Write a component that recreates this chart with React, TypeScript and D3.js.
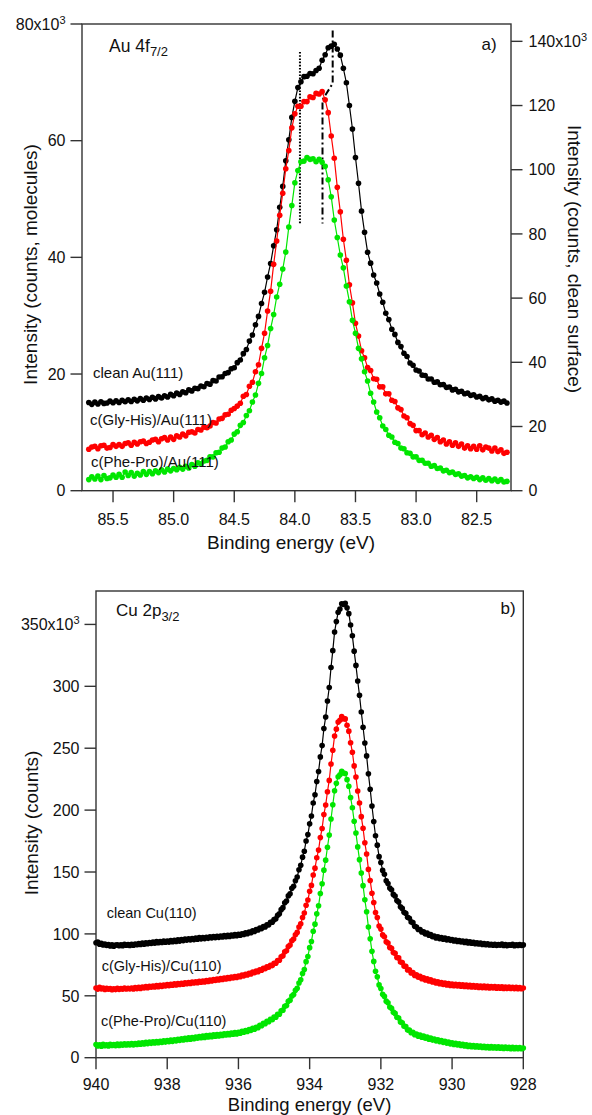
import React from "react";
import * as d3 from "d3";

// ---------- Au 4f7/2 spectra (sampled every 25 meV, starting at 85.70 eV) ----------
const AU_E0 = 85.7;
const AU_DE = 0.025;

// clean Au(111), x10^3 counts, read against the right-hand axis
const AU_CLEAN = [
  27.5, 26.9, 27.6, 27.0, 27.7, 27.2, 27.3, 27.9, 27.4, 28.0,
  27.5, 28.2, 27.7, 28.3, 27.8, 28.5, 28.0, 28.7, 28.2, 28.9,
  28.4, 29.1, 28.6, 29.3, 28.9, 29.6, 29.2, 30.0, 29.6, 30.4,
  30.0, 30.8, 30.5, 31.4, 31.1, 31.9, 31.8, 32.6, 32.4, 33.4,
  33.2, 34.3, 34.2, 35.4, 35.5, 36.5, 36.8, 38.0, 38.3, 39.9,
  40.7, 42.7, 44.0, 46.6, 48.5, 51.7, 54.3, 58.3, 61.8, 66.6,
  70.8, 76.3, 81.3, 88.3, 94.8, 102.8, 109.3, 116.3, 121.3, 125.6,
  127.4, 129.0, 129.1, 130.0, 129.9, 130.9, 131.6, 134.1, 135.8, 138.0,
  138.5, 139.1, 137.6, 135.7, 131.6, 127.1, 120.0, 112.7, 103.8, 95.8,
  87.1, 80.5, 74.3, 70.9, 67.2, 64.7, 61.3, 58.7, 55.3, 53.3,
  50.3, 48.7, 46.2, 44.9, 42.8, 41.8, 39.8, 39.1, 37.6, 37.3,
  36.0, 35.9, 34.8, 34.8, 33.8, 33.9, 33.0, 33.1, 32.2, 32.3,
  31.4, 31.6, 30.8, 31.0, 30.2, 30.4, 29.7, 29.9, 29.2, 29.4,
  28.7, 29.0, 28.3, 28.6, 27.9, 28.2, 27.6, 27.9, 27.3,
];

// c(Gly-His)/Au(111), x10^3 counts, left-hand axis
const AU_GLYHIS = [
  7.1, 7.5, 7.6, 7.2, 7.7, 7.8, 7.3, 7.4, 7.9, 7.6,
  7.9, 7.6, 8.1, 8.2, 7.8, 8.3, 8.0, 8.4, 8.5, 8.1,
  8.3, 8.7, 8.8, 8.4, 8.9, 9.1, 8.7, 9.2, 8.8, 9.4,
  9.2, 9.7, 9.4, 10.0, 10.1, 9.9, 10.5, 10.4, 10.9, 10.8,
  11.1, 11.7, 11.6, 12.3, 12.4, 13.0, 13.1, 13.8, 14.1, 14.5,
  15.0, 16.2, 16.5, 17.9, 18.6, 20.4, 21.6, 24.4, 27.0, 30.8,
  34.2, 38.8, 42.8, 47.2, 51.0, 55.2, 58.3, 62.2, 64.6, 65.9,
  65.9, 66.7, 66.7, 67.5, 67.4, 68.1, 68.0, 68.4, 67.0, 64.8,
  60.8, 57.0, 52.0, 47.8, 43.1, 39.5, 35.3, 32.2, 28.7, 26.5,
  24.0, 22.8, 21.1, 20.6, 19.2, 19.1, 17.8, 17.8, 16.6, 16.6,
  15.5, 15.3, 14.2, 13.9, 12.8, 12.5, 11.5, 11.2, 10.3, 10.3,
  9.6, 9.9, 9.2, 9.5, 8.8, 9.1, 8.4, 8.7, 8.0, 8.4,
  7.8, 8.2, 7.6, 8.0, 7.3, 7.7, 7.2, 7.6, 7.1, 7.7,
  7.0, 7.5, 7.3, 6.8, 7.3, 6.7, 7.0, 6.4, 6.6,
];

// c(Phe-Pro)/Au(111), x10^3 counts, left-hand axis
const AU_PHEPRO = [
  1.9, 2.4, 2.0, 2.5, 1.9, 2.6, 2.1, 2.2, 2.7, 2.3,
  2.8, 2.3, 3.2, 2.6, 3.1, 2.5, 3.0, 2.7, 3.3, 2.8,
  3.3, 2.9, 3.4, 3.1, 3.6, 3.2, 3.7, 3.4, 3.8, 3.6,
  4.0, 3.7, 4.2, 3.9, 4.5, 4.2, 4.8, 4.6, 5.1, 5.2,
  5.8, 5.8, 6.5, 6.6, 7.3, 7.5, 8.4, 8.7, 9.7, 10.1,
  11.2, 11.7, 12.9, 13.7, 15.2, 16.4, 18.4, 20.1, 22.8, 24.9,
  27.8, 30.2, 33.2, 35.4, 38.0, 40.9, 45.2, 48.9, 52.8, 54.9,
  56.4, 56.5, 57.1, 56.8, 56.9, 56.4, 56.8, 56.3, 55.6, 53.3,
  50.4, 46.4, 43.4, 40.4, 38.2, 35.1, 32.4, 29.2, 27.0, 24.4,
  22.6, 20.4, 18.8, 16.7, 15.2, 13.5, 12.5, 11.1, 10.5, 9.5,
  9.2, 8.3, 8.1, 7.3, 7.2, 6.5, 6.4, 5.8, 5.8, 5.2,
  5.2, 4.7, 4.7, 4.2, 4.3, 3.8, 3.9, 3.4, 3.5, 3.1,
  3.2, 2.8, 2.9, 2.5, 2.6, 2.2, 2.4, 2.1, 2.3, 1.9,
  2.2, 1.8, 2.1, 1.7, 2.0, 1.6, 1.9, 1.5, 1.6,
];

// peak-position markers (energy in eV, intensity on the left-hand axis)
const AU_SHOULDER_MARK = [[83.958, 75.2], [83.958, 45.8]];
const AU_SHIFT_MARK = [[83.688, 78.9], [83.688, 69.8], [83.772, 67.0], [83.772, 45.8]];

// ---------- Cu 2p3/2 spectra (sampled every 50 meV, starting at 940 eV) ----------
const CU_E0 = 940;
const CU_DE = 0.05;

const CU_CLEAN = [
  92.8, 93.5, 91.6, 92.4, 91.0, 91.9, 90.6, 91.4, 90.2, 91.1, 90.0, 90.9, 91.3, 90.4, 91.2, 90.5, 91.6, 90.8, 91.5, 90.7,
  91.6, 90.8, 91.9, 91.2, 92.3, 91.4, 92.6, 91.7, 92.9, 92.0, 93.1, 92.2, 93.4, 92.5, 93.8, 92.8, 93.9, 93.0, 94.2, 93.3,
  94.3, 93.4, 94.6, 93.7, 94.9, 93.9, 95.3, 94.2, 95.5, 94.6, 95.8, 95.0, 96.1, 95.2, 96.3, 95.4, 96.6, 95.7, 97.0, 96.0,
  97.1, 96.2, 97.3, 96.4, 97.6, 96.8, 97.9, 97.0, 98.1, 97.2, 98.3, 97.5, 98.6, 97.8, 98.9, 98.0, 99.1, 98.3, 99.4, 98.6,
  99.6, 98.9, 100.1, 99.5, 100.8, 100.1, 101.5, 101.0, 102.6, 102.0, 103.5, 103.1, 104.8, 104.3, 106.0, 105.6, 107.4, 107.3, 109.4, 109.5,
  111.5, 112.2, 115.0, 116.2, 119.6, 121.2, 125.1, 126.6, 130.7, 132.4, 136.8, 138.5, 142.9, 146.0, 151.8, 155.4, 162.0, 166.8, 175.1, 180.2,
  188.9, 195.3, 205.8, 212.4, 223.1, 231.2, 243.0, 252.1, 265.9, 275.2, 288.1, 299.0, 315.2, 328.8, 343.9, 352.3, 359.8, 362.4, 366.7, 366.2,
  367.1, 363.4, 358.7, 349.5, 340.8, 328.4, 316.9, 304.3, 292.8, 279.3, 266.9, 254.2, 243.8, 229.4, 216.9, 203.3, 190.8, 179.3, 171.7, 162.4,
  157.7, 151.3, 148.2, 142.9, 140.7, 137.0, 135.6, 131.9, 130.6, 127.0, 125.7, 121.9, 120.6, 117.4, 116.7, 113.5, 112.6, 109.7, 109.1, 106.2,
  105.6, 103.5, 103.6, 101.5, 101.7, 100.0, 100.6, 98.9, 99.4, 97.7, 98.2, 96.7, 97.6, 96.2, 97.0, 95.7, 96.6, 95.2, 96.0, 94.8,
  95.5, 94.3, 95.1, 93.9, 94.7, 93.5, 94.3, 93.1, 94.0, 92.7, 93.6, 92.4, 93.2, 92.0, 92.9, 91.8, 92.7, 91.5, 92.3, 91.2,
  92.0, 91.1, 91.7, 90.8, 91.6, 90.6, 91.4, 90.9, 91.8, 90.7, 91.5, 90.5, 91.3, 90.8, 91.6, 90.4, 91.2, 90.7, 91.5, 90.6,
  91.1,
];

const CU_GLYHIS = [
  56.3, 55.4, 56.8, 55.6, 56.2, 55.1, 56.0, 55.3, 55.9, 54.9, 55.7, 55.0, 56.1, 55.2, 55.9, 55.4, 56.3, 55.5, 56.1, 55.6,
  56.3, 55.5, 56.6, 55.8, 56.8, 56.0, 57.1, 56.3, 57.4, 56.5, 57.7, 56.9, 57.9, 57.1, 58.2, 57.3, 58.5, 57.6, 58.7, 57.9,
  59.0, 58.2, 59.3, 58.5, 59.6, 58.8, 59.9, 59.1, 60.2, 59.4, 60.5, 59.7, 60.8, 60.0, 61.1, 60.3, 61.4, 60.6, 61.7, 60.9,
  62.0, 61.2, 62.4, 61.6, 62.8, 62.0, 63.2, 62.4, 63.6, 62.8, 64.0, 63.2, 64.4, 63.6, 64.8, 64.0, 65.2, 64.4, 65.6, 64.8,
  66.0, 65.4, 66.7, 66.1, 67.4, 66.8, 68.2, 67.7, 69.1, 68.6, 70.0, 69.5, 71.1, 70.6, 72.2, 71.8, 73.4, 73.1, 74.7, 74.4,
  76.2, 76.3, 78.5, 78.7, 81.5, 82.3, 85.5, 86.4, 89.8, 91.0, 94.5, 95.8, 99.3, 101.2, 105.5, 108.2, 113.3, 116.8, 123.1, 127.4,
  134.4, 139.2, 147.6, 153.1, 161.5, 167.7, 177.8, 185.2, 196.5, 204.1, 214.8, 224.0, 237.3, 248.3, 259.9, 265.4, 271.1, 272.5, 275.5, 273.9,
  273.7, 268.6, 263.8, 254.4, 246.8, 235.7, 226.8, 215.4, 205.8, 194.7, 185.3, 173.6, 164.6, 152.1, 143.2, 132.9, 125.4, 117.2, 113.2, 106.4,
  103.9, 99.2, 97.7, 93.7, 92.6, 89.1, 88.4, 85.0, 84.3, 81.0, 80.6, 77.3, 76.9, 74.0, 73.8, 70.9, 71.1, 68.5, 68.8, 66.4,
  66.9, 65.0, 65.7, 63.8, 64.5, 62.8, 63.7, 62.0, 62.9, 61.1, 62.0, 60.4, 61.4, 59.8, 60.8, 59.2, 60.3, 58.8, 59.9, 58.4,
  59.4, 58.1, 59.3, 57.9, 59.0, 57.7, 58.9, 57.5, 58.7, 57.3, 58.5, 57.1, 58.3, 56.9, 58.1, 56.8, 57.9, 56.6, 57.8, 56.5,
  57.6, 56.4, 57.5, 56.3, 57.4, 56.2, 57.3, 56.1, 57.2, 56.0, 57.1, 55.9, 57.0, 55.9, 56.9, 55.8, 56.8, 55.7, 56.7, 55.7,
  56.3,
];

const CU_PHEPRO = [
  10.6, 9.5, 10.4, 9.3, 10.8, 9.6, 10.5, 9.4, 10.9, 9.8, 10.6, 9.7, 11.0, 9.9, 11.1, 10.0, 11.2, 10.2, 11.3, 10.3,
  11.4, 10.4, 11.5, 10.7, 11.9, 10.9, 12.1, 11.1, 12.4, 11.4, 12.6, 11.6, 12.9, 11.9, 13.1, 12.1, 13.3, 12.3, 13.6, 12.6,
  13.8, 12.9, 14.2, 13.2, 14.5, 13.6, 14.9, 14.0, 15.2, 14.3, 15.6, 14.7, 16.0, 15.0, 16.3, 15.4, 16.7, 15.8, 17.0, 16.1,
  17.4, 16.4, 17.8, 16.7, 18.0, 17.0, 18.4, 17.3, 18.7, 17.6, 19.0, 18.0, 19.3, 18.3, 19.6, 18.6, 20.0, 18.9, 20.3, 19.2,
  20.6, 19.8, 21.3, 20.5, 22.0, 21.2, 22.8, 22.1, 23.7, 23.0, 24.6, 24.2, 26.2, 25.8, 27.8, 27.4, 29.4, 29.0, 31.0, 30.7,
  32.9, 32.7, 35.0, 35.1, 37.9, 38.4, 41.5, 42.2, 45.5, 46.5, 49.9, 51.0, 54.5, 56.1, 60.4, 62.9, 68.0, 71.3, 77.6, 81.8,
  88.9, 93.9, 102.2, 107.9, 116.2, 122.7, 132.6, 140.5, 151.5, 159.6, 170.0, 179.8, 192.8, 204.3, 215.6, 221.6, 226.9, 228.6, 231.4, 230.0,
  229.6, 224.6, 219.3, 210.2, 201.9, 191.0, 181.5, 170.3, 160.0, 149.1, 139.0, 127.5, 117.9, 105.5, 96.0, 85.9, 77.8, 69.8, 65.3, 58.8,
  55.9, 51.3, 49.5, 45.7, 44.3, 41.0, 40.0, 36.8, 35.8, 32.7, 32.0, 28.9, 28.2, 25.5, 25.1, 22.3, 22.4, 20.2, 20.5, 18.6,
  19.1, 17.4, 18.2, 16.6, 17.4, 15.8, 16.6, 15.0, 15.8, 14.2, 15.1, 13.6, 14.5, 13.0, 13.9, 12.4, 13.3, 11.8, 12.7, 11.2,
  12.1, 10.7, 11.7, 10.3, 11.3, 9.9, 10.9, 9.5, 10.5, 9.1, 10.1, 8.8, 9.9, 8.6, 9.7, 8.4, 9.5, 8.2, 9.3, 8.0,
  9.1, 7.9, 9.0, 7.8, 8.9, 7.7, 8.8, 7.6, 8.7, 7.5, 8.6, 7.4, 8.5, 7.3, 8.4, 7.3, 8.3, 7.2, 8.3, 7.2,
  7.8,
];

// ---------- ticks and labels ----------
const AU_X_TICKS = [85.5, 85.0, 84.5, 84.0, 83.5, 83.0, 82.5];
const AU_LEFT_TICKS = [0, 20, 40, 60, 80];
const AU_RIGHT_TICKS = [0, 20, 40, 60, 80, 100, 120, 140];
const CU_X_TICKS = [940, 938, 936, 934, 932, 930, 928];
const CU_Y_TICKS = [0, 50, 100, 150, 200, 250, 300, 350];

const AU_LABELS = ["clean Au(111)", "c(Gly-His)/Au(111)", "c(Phe-Pro)/Au(111)"];
const CU_LABELS = ["clean Cu(110)", "c(Gly-His)/Cu(110)", "c(Phe-Pro)/Cu(110)"];
const COLORS = ["#000000", "#ff0000", "#00e600"];

// ---------- layout ----------
const W = 592;
const H = 1115;
const FONT = "'Liberation Sans', Arial, Helvetica, sans-serif";
const AXIS = "#333333";
const TICK = 11.5;

const PA = { left: 82, right: 511, top: 24, bottom: 490.7 };
const PB = { left: 96, right: 523.3, top: 591, bottom: 1057.7 };

const auX = d3.scaleLinear().domain([85.756, 82.217]).range([PA.left, PA.right]);
const auYL = d3.scaleLinear().domain([0, 80]).range([PA.bottom, PA.top]);
const auYR = d3.scaleLinear().domain([0, 145.4]).range([PA.bottom, PA.top]);
const cuX = d3.scaleLinear().domain([940, 928]).range([PB.left, PB.right]);
const cuY = d3.scaleLinear().domain([0, 377]).range([PB.bottom, PB.top]);

const auE = AU_CLEAN.map((_, i) => AU_E0 - i * AU_DE);
const cuE = CU_CLEAN.map((_, i) => CU_E0 - i * CU_DE);

type Scale = d3.ScaleLinear<number, number>;

function Series({ es, vs, x, y, color }: { es: number[]; vs: number[]; x: Scale; y: Scale; color: string }) {
  const pts: [number, number][] = es.map((e, i) => [x(e), y(vs[i])]);
  const d = d3.line()(pts) || "";
  return (
    <g>
      <path d={d} fill="none" stroke={color} strokeWidth={1.2} />
      {pts.map((p, i) => (
        <circle key={i} cx={p[0]} cy={p[1]} r={2.8} fill={color} />
      ))}
    </g>
  );
}

function NumLabel({ x, y, value, exp, anchor }: { x: number; y: number; value: string; exp?: boolean; anchor: "start" | "end" | "middle" }) {
  return (
    <text x={x} y={y} textAnchor={anchor} fontSize={16} fill="#111">
      {value}
      {exp ? "x10" : ""}
      {exp ? (
        <tspan dy={-6} fontSize={11}>
          3
        </tspan>
      ) : null}
    </text>
  );
}

function Frame({ p }: { p: { left: number; right: number; top: number; bottom: number } }) {
  return (
    <rect
      x={p.left}
      y={p.top}
      width={p.right - p.left}
      height={p.bottom - p.top}
      fill="none"
      stroke={AXIS}
      strokeWidth={1.4}
    />
  );
}

export default function App() {
  const fmt1 = d3.format(".1f");
  const markLine = d3.line<number[]>().x((d) => auX(d[0])).y((d) => auYL(d[1]));

  return (
    <svg
      width={W}
      height={H}
      viewBox={`0 0 ${W} ${H}`}
      style={{ position: "absolute", left: 0, top: 0, background: "#fff", fontFamily: FONT }}
    >
      {/* ===== panel a: Au 4f7/2 ===== */}
      <Frame p={PA} />
      {AU_X_TICKS.map((t) => (
        <g key={"ax" + t}>
          <line x1={auX(t)} x2={auX(t)} y1={PA.bottom} y2={PA.bottom + TICK} stroke={AXIS} strokeWidth={1.4} />
          <NumLabel x={auX(t)} y={PA.bottom + 34} value={fmt1(t)} anchor="middle" />
        </g>
      ))}
      {AU_LEFT_TICKS.map((t, i) => (
        <g key={"al" + t}>
          <line x1={PA.left - TICK} x2={PA.left} y1={auYL(t)} y2={auYL(t)} stroke={AXIS} strokeWidth={1.4} />
          <NumLabel
            x={PA.left - TICK - 5}
            y={auYL(t) + 5.7}
            value={String(t)}
            exp={i === AU_LEFT_TICKS.length - 1}
            anchor="end"
          />
        </g>
      ))}
      {AU_RIGHT_TICKS.map((t, i) => (
        <g key={"ar" + t}>
          <line x1={PA.right} x2={PA.right + TICK} y1={auYR(t)} y2={auYR(t)} stroke={AXIS} strokeWidth={1.4} />
          <NumLabel
            x={PA.right + TICK + 6}
            y={auYR(t) + 5.7}
            value={String(t)}
            exp={i === AU_RIGHT_TICKS.length - 1}
            anchor="start"
          />
        </g>
      ))}

      <path d={markLine(AU_SHOULDER_MARK) || ""} fill="none" stroke="#000" strokeWidth={2} strokeDasharray="1.6,1.6" />
      <path d={markLine(AU_SHIFT_MARK) || ""} fill="none" stroke="#000" strokeWidth={2} strokeDasharray="7,3,2,3" />

      <Series es={auE} vs={AU_CLEAN} x={auX} y={auYR} color={COLORS[0]} />
      <Series es={auE} vs={AU_GLYHIS} x={auX} y={auYL} color={COLORS[1]} />
      <Series es={auE} vs={AU_PHEPRO} x={auX} y={auYL} color={COLORS[2]} />

      <text x={109} y={51.5} fontSize={17.5} fill="#111">
        Au 4f
        <tspan dy={4.5} fontSize={13}>
          7/2
        </tspan>
      </text>
      <text x={481.5} y={50} fontSize={17} fill="#111">
        a)
      </text>
      <text x={93} y={378} fontSize={15} fill="#111">{AU_LABELS[0]}</text>
      <text x={90} y={425} fontSize={15} fill="#111">{AU_LABELS[1]}</text>
      <text x={91} y={467} fontSize={15} fill="#111">{AU_LABELS[2]}</text>

      <text x={291} y={549} fontSize={19} textAnchor="middle" fill="#111">
        Binding energy (eV)
      </text>
      <text transform="translate(37,264.5) rotate(-90)" fontSize={19} textAnchor="middle" fill="#111">
        Intensity (counts, molecules)
      </text>
      <text transform="translate(568,259) rotate(90)" fontSize={19} textAnchor="middle" fill="#111">
        Intensity (counts, clean surface)
      </text>

      {/* ===== panel b: Cu 2p3/2 ===== */}
      <Frame p={PB} />
      {CU_X_TICKS.map((t) => (
        <g key={"bx" + t}>
          <line x1={cuX(t)} x2={cuX(t)} y1={PB.bottom} y2={PB.bottom + TICK} stroke={AXIS} strokeWidth={1.4} />
          <NumLabel x={cuX(t)} y={PB.bottom + 32.5} value={String(t)} anchor="middle" />
        </g>
      ))}
      {CU_Y_TICKS.map((t, i) => (
        <g key={"by" + t}>
          <line x1={PB.left - TICK} x2={PB.left} y1={cuY(t)} y2={cuY(t)} stroke={AXIS} strokeWidth={1.4} />
          <NumLabel
            x={PB.left - TICK - 5}
            y={cuY(t) + 5.7}
            value={String(t)}
            exp={i === CU_Y_TICKS.length - 1}
            anchor="end"
          />
        </g>
      ))}

      <Series es={cuE} vs={CU_CLEAN} x={cuX} y={cuY} color={COLORS[0]} />
      <Series es={cuE} vs={CU_GLYHIS} x={cuX} y={cuY} color={COLORS[1]} />
      <Series es={cuE} vs={CU_PHEPRO} x={cuX} y={cuY} color={COLORS[2]} />

      <text x={116} y={616} fontSize={17} fill="#111">
        Cu 2p
        <tspan dy={4.5} fontSize={13}>
          3/2
        </tspan>
      </text>
      <text x={500.5} y={614} fontSize={17} fill="#111">
        b)
      </text>
      <text x={106.7} y={917.5} fontSize={14.5} fill="#111">{CU_LABELS[0]}</text>
      <text x={101.7} y={970.5} fontSize={14.5} fill="#111">{CU_LABELS[1]}</text>
      <text x={101} y={1025.5} fontSize={14.5} fill="#111">{CU_LABELS[2]}</text>

      <text x={309.6} y={1110.5} fontSize={18.5} textAnchor="middle" fill="#111">
        Binding energy (eV)
      </text>
      <text transform="translate(38,823) rotate(-90)" fontSize={19} textAnchor="middle" fill="#111">
        Intensity (counts)
      </text>
    </svg>
  );
}
